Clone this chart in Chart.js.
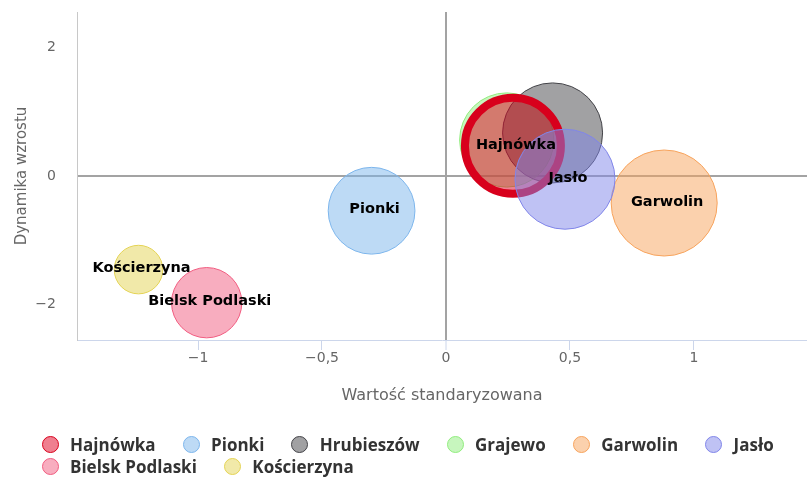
<!DOCTYPE html>
<html>
<head>
<meta charset="utf-8">
<script src="https://cdn.jsdelivr.net/npm/chart.js@4.4.0/dist/chart.umd.min.js"></script>
<style>
  html, body { margin: 0; padding: 0; background: #fff; }
  #wrap { position: relative; width: 807px; height: 478px; }
  #legend { position: absolute; left: 41.5px; top: 433px; width: 765px; display: flex; flex-wrap: wrap;
            font: bold 17px "Open Sans", sans-serif; color: #333; }
  .item { display: flex; align-items: center; height: 22px; margin-right: 27px; white-space: nowrap; }
  .dot { width: 17px; height: 17px; border-radius: 50%; border: 1px solid; box-sizing: border-box; margin-right: 11.5px; flex: none; }
</style>
</head>
<body>
<div id="wrap">
  <canvas id="c" width="807" height="478"></canvas>
  <div id="legend"></div>
</div>
<script>
// ---- data ----
const categories = ['Hajnówka', 'Pionki', 'Hrubieszów', 'Grajewo', 'Garwolin', 'Jasło', 'Bielsk Podlaski', 'Kościerzyna'];
const xValues    = [0.27, -0.30, 0.43, 0.245, 0.88, 0.48, -0.965, -1.24];
const yValues    = [0.47, -0.54, 0.67, 0.56, -0.42, -0.05, -1.97, -1.455];
const sizeValues = [82, 67, 89, 79, 100, 89, 44, 21];
const xTicks = [-1, -0.5, 0, 0.5, 1];
const xTickLabels = ['−1', '−0,5', '0', '0,5', '1'];
const yTicks = [-2, 0, 2];
const yTickLabels = ['−2', '0', '2'];
const xTitle = 'Wartość standaryzowana';
const yTitle = 'Dynamika wzrostu';

// ---- styles ----
const colors = ['#e0001f', '#7cb5ec', '#434348', '#90ed7d', '#f7a35c', '#8085e9', '#f15c80', '#e4d354'];
const drawOrder = [1, 5, 2, 3, 5, 0, 5, 4]; // lower = drawn on top, and label wins overlaps
const highlight = 'Hajnówka';
const maxRadius = 53, maxSize = 100;

function alpha(hex, a) {
  const n = parseInt(hex.slice(1), 16);
  return `rgba(${(n >> 16) & 255},${(n >> 8) & 255},${n & 255},${a})`;
}
function radiusOf(z) { return maxRadius * Math.sqrt(z / maxSize); }

const datasets = categories.map((name, i) => ({
  label: name,
  data: [{ x: xValues[i], y: yValues[i], r: radiusOf(sizeValues[i]) }],
  backgroundColor: alpha(colors[i], 0.5),
  borderColor: name === highlight ? '#d8001c' : colors[i],
  borderWidth: name === highlight ? 8 : 1,
  hoverBorderWidth: name === highlight ? 8 : 1,
  order: drawOrder[i]
}));

// data labels, hiding ones that would overlap a higher-ranked label
const labelPlugin = {
  id: 'bubbleLabels',
  afterDatasetsDraw(chart) {
    const ctx = chart.ctx;
    ctx.save();
    ctx.font = 'bold 14.5px "DejaVu Sans"';
    ctx.fillStyle = '#000';
    ctx.textAlign = 'center';
    ctx.textBaseline = 'middle';
    const idx = chart.data.datasets.map((d, i) => i).sort((a, b) => drawOrder[a] - drawOrder[b] || a - b);
    const boxes = [];
    idx.forEach(i => {
      const ds = chart.data.datasets[i];
      chart.getDatasetMeta(i).data.forEach(el => {
        const w = ctx.measureText(ds.label).width, h = 16;
        const cx = el.x + 3;
        const b = { l: cx - w / 2, r: cx + w / 2, t: el.y - h / 2, b: el.y + h / 2 };
        if (boxes.some(o => b.l < o.r && b.r > o.l && b.t < o.b && b.b > o.t)) return;
        boxes.push(b);
        ctx.fillText(ds.label, cx, el.y - 1);
      });
    });
    ctx.restore();
  }
};

const zeroColor = c => (c.tick && c.tick.value === 0 ? '#a3a3a3' : 'rgba(0,0,0,0)');
const zeroWidth = c => (c.tick && c.tick.value === 0 ? 2 : 1);
const tickFont = { family: '"DejaVu Sans"', size: 14 };
const noPad = s => { s.paddingTop = 0; s.paddingBottom = 0; s.paddingLeft = 0; s.paddingRight = 0; };

new Chart(document.getElementById('c'), {
  type: 'bubble',
  data: { datasets },
  options: {
    responsive: false,
    animation: false,
    events: [],
    layout: { autoPadding: false, padding: { top: 12, right: 0, bottom: 58, left: 0 } },
    plugins: { legend: { display: false }, tooltip: { enabled: false } },
    scales: {
      x: {
        type: 'linear', min: -1.488, max: 1.456,
        afterBuildTicks: s => { s.ticks = xTicks.map(v => ({ value: v })); },
        afterFit: s => { s.height = 80; noPad(s); },
        ticks: { callback: (v, i) => xTickLabels[i], color: '#666', font: tickFont, padding: 0, maxRotation: 0, autoSkip: false },
        grid: { color: zeroColor, lineWidth: zeroWidth, tickColor: '#ccd6eb', tickWidth: 1, tickLength: 10 },
        border: { display: true, color: '#ccd6eb', width: 1 },
        title: { display: true, text: xTitle, color: '#666', font: { family: '"DejaVu Sans"', size: 16 }, padding: { top: 4, bottom: 15 } }
      },
      y: {
        type: 'linear', min: -2.55, max: 2.55,
        afterBuildTicks: s => { s.ticks = yTicks.map(v => ({ value: v })); },
        afterFit: s => { s.width = 77; noPad(s); },
        ticks: { callback: (v, i) => yTickLabels[i], color: '#666', font: tickFont, padding: 21 },
        grid: { color: zeroColor, lineWidth: zeroWidth, drawTicks: false },
        border: { display: true, color: '#c8c8c8', width: 1 },
        title: { display: true, text: yTitle, color: '#666', font: { family: '"DejaVu Sans"', size: 15 }, padding: { top: 13, bottom: 0 } }
      }
    }
  },
  plugins: [labelPlugin]
});

// legend (HTML, built from the same arrays)
const legend = document.getElementById('legend');
categories.forEach((name, i) => {
  const item = document.createElement('div');
  item.className = 'item';
  const dot = document.createElement('span');
  dot.className = 'dot';
  dot.style.background = alpha(colors[i], 0.5);
  dot.style.borderColor = name === highlight ? '#d8001c' : colors[i];
  const txt = document.createElement('span');
  txt.textContent = name;
  item.appendChild(dot);
  item.appendChild(txt);
  legend.appendChild(item);
});
</script>
</body>
</html>
